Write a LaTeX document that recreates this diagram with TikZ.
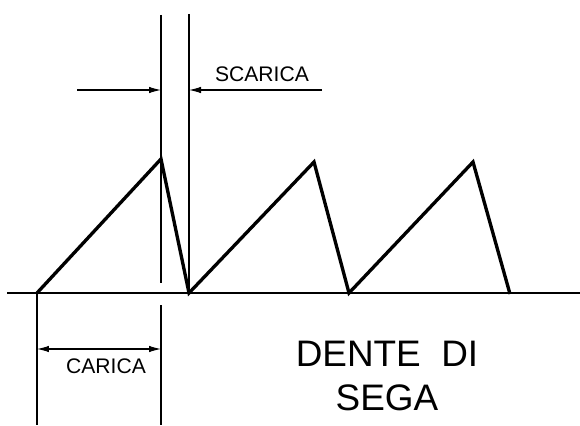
\documentclass[tikz,border=0pt]{standalone}
\usepackage{fontspec}
\setmainfont{Liberation Sans}
\usetikzlibrary{arrows.meta}

\begin{document}
\begin{tikzpicture}[
  x=0.02cm, y=-0.02cm,
  saw/.style={line width=1.9pt, line join=miter},
  guide/.style={line width=0.6pt},
  dim/.style={line width=0.6pt, -{Latex[length=2.4mm, width=1.3mm]}},
  lbl/.style={font=\fontsize{12}{14}\selectfont, inner sep=0pt},
  title/.style={font=\fontsize{21}{25}\selectfont, align=center, inner sep=0pt}
]
\useasboundingbox (0,0) rectangle (580,425);

% sawtooth points
\coordinate (s0) at (37,293);  \coordinate (t1) at (161,159);
\coordinate (s1) at (189,293); \coordinate (t2) at (314,162);
\coordinate (s2) at (349,293); \coordinate (t3) at (473,162);
\coordinate (s3) at (510,294);
% axis and guide line ends
\coordinate (axL) at (7,293);   \coordinate (axR) at (580,293);
\coordinate (gA) at (161,15);   \coordinate (gAb) at (161,283);
\coordinate (gB) at (189,14);
\coordinate (gC) at (161,305);  \coordinate (gCb) at (161,425);
\coordinate (gD) at (37,425);
\coordinate (scL) at (77,90);   \coordinate (scLe) at (161,90);
\coordinate (scR) at (322,90);  \coordinate (scRe) at (189,90);
\coordinate (caL) at (37,349);  \coordinate (caR) at (161,349);

\draw[guide] (axL) -- (axR);
\draw[saw] (s0) -- (t1) -- (s1) -- (t2) -- (s2) -- (t3) -- (s3);

\draw[guide] (gA) -- (gAb);
\draw[guide] (gB) -- (s1);
\draw[guide] (gC) -- (gCb);
\draw[guide] (s0) -- (gD);

\draw[dim] (scL) -- (scLe);
\draw[dim] (scR) -- (scRe);
\draw[dim, {Latex[length=2.4mm, width=1.3mm]}-{Latex[length=2.4mm, width=1.3mm]}] (caL) -- (caR);

\node[lbl] (scarica) at (262,74) {SCARICA};
\node[lbl] (carica) at (106,366) {CARICA};
\node[title] (dente) at (387,376) {DENTE\ \ DI\\SEGA};
\end{tikzpicture}
\end{document}
